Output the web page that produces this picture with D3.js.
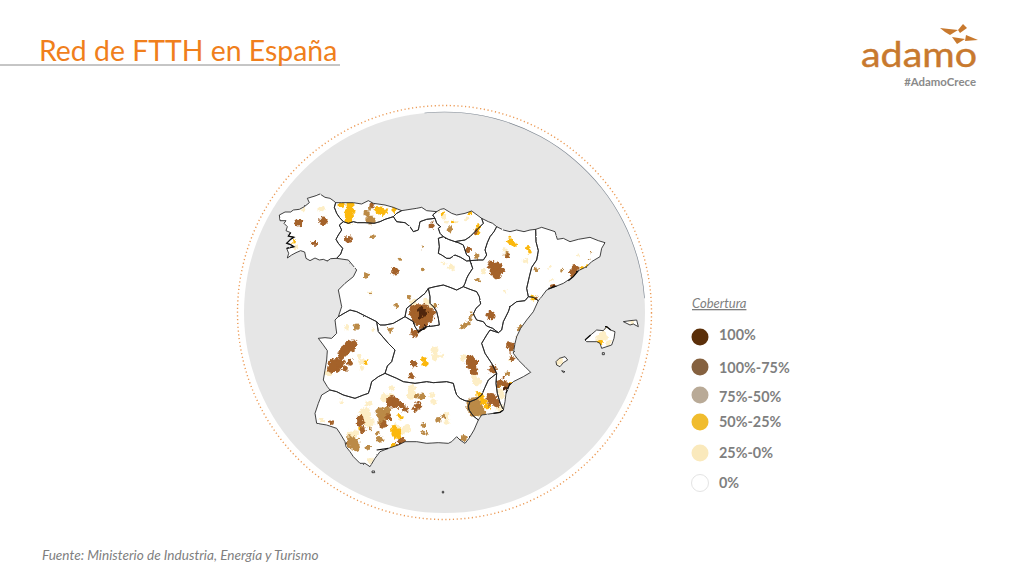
<!DOCTYPE html>
<html><head><meta charset="utf-8">
<script src="https://cdn.jsdelivr.net/npm/d3@7/dist/d3.min.js"></script>
<style>html,body{margin:0;padding:0;background:#fff}svg{display:block}text{font-family:Lato,"Open Sans",sans-serif}</style>
</head><body><svg id="c" width="1024" height="576"></svg>
<script>
const titleText="Red de FTTH en España";
const sourceText="Fuente: Ministerio de Industria, Energía y Turismo";
const legendTitle="Cobertura";
const legendLabels=["100%","100%-75%","75%-50%","50%-25%","25%-0%","0%"];
const legendColors=["#5b2f09","#85613f","#b9aa97","#f0bc2e","#fae9bc","#ffffff"];
const legendDotYs=[337,367,395,422,453,483];
const legendTextYs=[340,373,402,427,458,488];
const tierColors=["#fdeec6","#fbb80f","#bb8a46","#a4622a","#4f2708"];

// Shared borders and coasts, in map-grid units
const coastGalicia=[[200,235],[182,236],[172,243],[160,238],[148,240],[135,234],[120,242],[108,235],[104,216],[92,212],[78,218],[65,225],[52,234],[56,220],[50,205],[72,200],[60,193],[50,190],[62,178],[72,172],[55,168],[62,158],[48,152],[52,140],[42,130],[48,122],[30,122],[28,105],[45,96],[62,96],[70,90],[88,88],[103,80],[118,68],[112,55],[135,48],[150,42],[165,52],[180,55],[190,62],[197,68]];
const bGalAst=[[197,68],[193,82],[200,100],[208,112],[220,125]];
const bGalCyl=[[220,125],[208,135],[215,150],[205,165],[198,178],[205,190],[218,205],[212,222],[200,235]];
const coastAst=[[197,68],[215,68],[250,68],[275,72],[295,62],[310,70],[345,75],[370,82],[395,92]];
const bAstCan=[[395,92],[380,100],[370,110]];
const bAstCyl=[[370,110],[345,118],[330,125],[312,130],[285,128],[262,128],[250,125],[235,130],[220,125]];
const coastCan=[[395,92],[420,88],[440,85],[455,82],[470,92],[500,95]];
const bCanPV=[[500,95],[488,105],[495,115]];
const bCanCyl=[[495,115],[470,118],[450,125],[447,140],[445,150],[430,155],[420,140],[405,128],[380,125],[370,110]];
const coastPV=[[500,95],[512,88],[522,86],[545,100],[560,105],[585,100],[605,93],[635,115]];
const bPVNav=[[635,115],[640,130],[625,145],[610,160],[600,170],[585,180],[565,183],[555,185]];
const bPVRio=[[555,185],[535,178],[520,170]];
const bPVCyl=[[520,170],[510,160],[505,145],[512,140],[500,130],[495,115]];
const frNav=[[635,115],[655,125],[668,130],[680,140]];
const bNavAra=[[680,140],[672,155],[660,170],[652,188],[645,210],[650,225],[640,240],[625,240],[600,242]];
const bNavRio=[[600,242],[598,230],[590,225],[585,210],[580,195],[565,188],[555,185]];
const bRioCyl=[[520,170],[505,175],[508,200],[505,220],[515,225],[530,235],[540,235],[555,225],[572,232],[590,243],[600,242]];
const bCylAra=[[600,242],[608,265],[595,285],[590,295],[585,310],[580,320]];
const bCylCLMn=[[580,320],[560,330],[540,322],[520,315],[495,320],[475,325]];
const bAraCLM=[[580,320],[600,328],[620,335],[628,350],[632,372],[618,385],[610,402],[620,420],[640,425],[650,438],[668,445],[685,458]];
const bAraVal=[[685,458],[695,450],[700,425],[715,395],[720,380],[740,365],[765,362],[775,350]];
const bAraCat=[[775,350],[770,325],[778,290],[785,262],[800,240],[805,212],[798,185],[797,148]];
const frAra=[[680,140],[700,150],[720,155],[740,150],[762,155],[780,150],[797,148]];
const coastCat=[[797,148],[815,142],[840,150],[855,155],[862,178],[880,175],[900,185],[925,178],[960,172],[985,182],[1005,188],[995,205],[990,230],[965,245],[950,260],[925,272],[910,290],[880,310],[860,318],[830,330],[815,350],[805,362]];
const bCatVal=[[805,362],[790,352],[775,350]];
const coastVal=[[805,362],[790,395],[770,420],[752,445],[740,470],[735,490],[730,520],[745,540],[765,560],[782,577],[760,590],[730,605],[715,620],[708,640],[705,665],[700,690]];
const bValMur=[[680,580],[678,610],[682,640],[690,668],[700,690]];
const bValCLM=[[680,580],[665,550],[645,520],[635,490],[650,465],[660,450],[685,458]];
const coastMur=[[700,690],[690,697],[670,700],[650,703],[635,705],[625,720]];
const bMurAnd=[[625,720],[610,708],[597,690],[595,678],[600,665]];
const bMurCLM=[[600,665],[618,658],[635,645],[645,622],[655,600],[680,580]];
const coastAnd=[[625,720],[612,750],[597,775],[585,790],[570,780],[560,770],[545,785],[535,790],[505,788],[470,790],[440,785],[405,785],[385,795],[355,805],[330,815],[315,835],[300,860],[285,850],[270,850],[250,830],[240,815],[228,800],[225,785],[210,760],[200,745],[170,735],[140,730],[135,700],[145,670],[155,645],[180,630]];
const bExAnd=[[180,630],[200,635],[220,645],[255,655],[280,645],[295,640],[300,625],[305,605],[325,590],[345,580]];
const bCLMAnd=[[345,580],[380,595],[400,605],[435,610],[470,605],[490,608],[530,605],[550,610],[555,630],[560,645],[570,655],[585,662],[600,665]];
const bExCLM=[[345,580],[352,558],[365,545],[375,510],[355,490],[325,455],[320,425]];
const bExCyl=[[320,425],[290,410],[260,395],[240,390],[222,400],[205,410]];
const westEx=[[205,410],[195,420],[200,460],[185,475],[165,473],[145,475],[160,495],[172,512],[170,540],[165,570],[160,600],[172,620],[180,630]];
const westCyl=[[205,410],[215,380],[205,330],[225,310],[250,290],[260,270],[235,240],[200,235]];
const bCylMad=[[475,325],[465,340],[440,360],[410,385],[405,410]];
const bCylCLM=[[405,410],[370,430],[345,435],[330,435],[320,425]];
const bMadCLM=[[475,325],[480,350],[480,370],[492,382],[500,395],[505,415],[508,435],[490,438],[470,440],[455,450],[445,455],[435,440],[430,425],[405,410]];
const rev=a=>a.slice().reverse();
const galicia=[...coastGalicia,...bGalAst,...bGalCyl];
const asturias=[...coastAst,...bAstCan,...bAstCyl,...rev(bGalAst)];
const cantabria=[...coastCan,...bCanPV,...bCanCyl,...rev(bAstCan)];
const paisVasco=[...coastPV,...bPVNav,...bPVRio,...bPVCyl,...rev(bCanPV)];
const navarra=[...frNav,...bNavAra,...bNavRio,...rev(bPVNav)];
const rioja=[...rev(bPVRio),...rev(bNavRio),...rev(bRioCyl)];
const castillaLeon=[...rev(bAstCyl),...rev(bCanCyl),...rev(bPVCyl),...bRioCyl,...bCylAra,...bCylCLMn,...bCylMad,...bCylCLM,...bExCyl,...westCyl,...rev(bGalCyl)];
const aragon=[...frAra,...rev(bAraCat),...rev(bAraVal),...rev(bAraCLM),...rev(bCylAra),...rev(bNavAra)];
const cataluna=[...coastCat,...bCatVal,...bAraCat];
const valencia=[...bAraVal,...rev(bCatVal),...coastVal,...rev(bValMur),...bValCLM];
const madrid=[...bMadCLM,...rev(bCylMad)];
const castillaMancha=[...rev(bCylCLMn),...bAraCLM,...rev(bValCLM),...rev(bMurCLM),...rev(bCLMAnd),...bExCLM,...rev(bCylCLM),...rev(bMadCLM)];
const murcia=[...bMurCLM,...bValMur,...coastMur,...bMurAnd];
const andalucia=[...bExAnd,...bCLMAnd,...rev(bMurAnd),...coastAnd];
const extremadura=[...westEx,...bExAnd,...bExCLM,...bExCyl];
const mallorca=[[945,480],[962,465],[980,450],[1000,452],[1010,440],[1022,450],[1035,455],[1032,475],[1025,495],[995,505],[990,490],[980,485],[950,485]];
const menorca=[[1060,425],[1080,422],[1100,420],[1105,440],[1090,432],[1080,435]];
const ibiza=[[858,545],[868,535],[885,530],[893,540],[880,548],[870,560],[860,555]];
const formentera=[[875,572],[885,575],[880,578]];
const ceuta=[[306,873],[314,873],[314,878],[306,878]];
const melilla=[[517,934],[521,934],[521,939],[517,939]];
const cabrera=[[997,518],[1003,518],[1003,524],[997,524]];
const regions=[galicia,asturias,cantabria,castillaLeon,paisVasco,navarra,rioja,aragon,cataluna,madrid,castillaMancha,valencia,murcia,andalucia,extremadura,mallorca,menorca,ibiza,formentera,ceuta,melilla,cabrera];
const darkCoasts=[[[50,205],[72,200],[60,193],[50,190],[62,178],[72,172],[55,168],[62,158]],[[445,455],[455,450],[470,440]],[[925,272],[910,290],[895,302]],[[860,318],[835,326]],[[1005,440],[1010,440],[1022,450]],[[945,480],[962,465]],[[320,810],[355,805]],[[700,690],[690,697],[670,700]],[[720,610],[708,640]]];

// Coverage patches: [x, y, radius] in map-grid units, one list per tier
const patches25=[[155,88,8],[100,88,5],[78,200,7],[300,340,4],[230,442,6],[310,450,5],[520,250,5],[545,262,8],[705,335,5],[640,275,7],[705,210,7],[925,228,4],[845,300,5],[840,262,4],[765,243,6],[520,110,7],[530,125,5],[560,125,5],[590,115,5],[505,95,4],[175,578,9],[275,545,9],[268,530,6],[275,565,6],[495,510,9],[495,530,10],[515,528,7],[580,532,9],[620,605,12],[612,590,7],[690,685,11],[695,645,9],[630,705,7],[285,700,15],[295,725,14],[295,670,8],[345,652,11],[360,648,8],[425,625,11],[425,645,13],[365,625,8],[410,745,11],[395,755,8],[485,645,7],[490,665,8],[530,705,7],[530,725,8],[245,765,12],[258,760,8],[300,840,8],[380,740,9],[155,720,6],[215,665,6],[1000,470,12],[985,475,8],[1015,490,8],[870,545,10],[1085,428,6],[430,370,10],[470,365,9],[485,380,7],[720,540,5],[690,635,8]];
const patches50=[[240,75,9],[240,90,12],[238,105,12],[235,120,10],[215,75,8],[335,95,11],[320,90,8],[350,92,6],[372,88,7],[550,125,5],[600,100,5],[520,100,4],[625,140,6],[622,155,8],[718,170,5],[720,185,8],[732,193,7],[775,205,6],[780,215,5],[790,355,8],[935,265,6],[950,258,5],[462,540,8],[465,552,7],[288,548,6],[720,610,6],[632,650,8],[640,665,9],[652,680,7],[625,640,6],[270,745,5],[370,800,8],[372,745,9],[380,760,14],[390,710,7],[990,488,7],[1005,440,5],[72,185,5],[690,615,5]];
const patches75=[[612,675,20],[625,690,16],[610,695,13],[640,700,7],[300,120,12],[290,100,8],[300,85,6],[340,705,16],[330,695,11],[352,690,10],[335,725,11],[455,648,9],[440,650,5],[250,790,16],[240,775,8],[258,802,10],[295,802,7],[330,778,9],[322,760,6],[505,720,8],[520,710,5],[460,735,7],[462,760,7],[580,775,9],[540,148,8],[710,225,8],[797,270,6],[875,270,4],[965,222,3],[955,238,3],[308,170,6],[458,200,4],[390,238,4],[458,268,5],[290,285,7],[300,342,3],[418,352,6],[380,377,6],[497,378,6],[360,450,7],[260,440,8],[622,300,6],[750,445,6],[745,470,5],[715,580,7],[600,415,7],[595,430,6],[585,437,6],[605,403,5],[575,440,4],[620,228,7],[175,770,5],[300,745,5]];
const patches100=[[85,128,10],[160,122,11],[133,190,7],[235,178,9],[305,75,6],[375,275,10],[665,255,11],[680,265,15],[695,270,9],[680,285,11],[668,275,8],[663,407,12],[710,228,6],[618,155,6],[915,265,9],[915,285,11],[905,275,7],[595,210,7],[485,137,8],[433,460,10],[440,395,20],[460,400,24],[445,415,18],[472,410,16],[458,428,13],[430,385,9],[490,395,7],[240,500,16],[225,510,13],[250,490,10],[215,525,11],[195,555,18],[185,565,12],[212,550,11],[240,545,8],[225,565,7],[605,550,15],[612,572,11],[600,535,10],[433,552,9],[425,588,8],[720,495,10],[722,510,7],[725,535,7],[668,568,11],[690,610,9],[710,615,10],[665,655,14],[680,670,10],[660,670,7],[365,665,15],[380,670,12],[395,675,8],[340,735,10],[355,712,8],[445,678,10],[435,688,7],[405,688,8],[270,715,9],[272,730,10],[278,750,8],[395,785,10],[380,795,5],[185,728,6],[800,355,5],[850,320,6],[700,595,5]];
const patchesFull=[[455,395,11],[450,412,6],[468,402,5],[455,448,5],[465,442,4],[447,453,4],[920,292,5],[912,298,4],[850,322,4],[705,625,5],[388,792,3],[230,790,3]];
const patchTiers=[patches25,patches50,patches75,patches100,patchesFull];

const logoMark=[[[940,28],[958,30],[950,35],[945,32]],[[963,24],[967,28],[960,33],[958,30]],[[952,37],[965,39],[957,44]],[[966,35],[978,40],[965,41]]];

const svg=d3.select("#c");
const x=d3.scaleLinear().domain([0,1050]).range([270,620]);
const y=d3.scaleLinear().domain([0,480]).range([180,340]);
const r=d3.scaleLinear().domain([0,3]).range([0,1.15]);
const line=d3.line().x(d=>x(d[0])).y(d=>y(d[1])).curve(d3.curveLinearClosed);
const openLine=d3.line().x(d=>x(d[0])).y(d=>y(d[1]));

const defs=svg.append("defs");
defs.append("clipPath").attr("id","land").selectAll("path").data(regions).join("path").attr("d",line);
function rough(id,freq,scale,blur){
  const f=defs.append("filter").attr("id",id).attr("filterUnits","userSpaceOnUse").attr("x",240).attr("y",100).attr("width",420).attr("height",420);
  f.append("feTurbulence").attr("type","fractalNoise").attr("baseFrequency",freq).attr("numOctaves",2).attr("seed",4).attr("result","n");
  f.append("feDisplacementMap").attr("in","SourceGraphic").attr("in2","n").attr("scale",scale).attr("xChannelSelector","R").attr("yChannelSelector","G").attr("result","d");
  f.append("feGaussianBlur").attr("in","d").attr("stdDeviation",blur);
}
rough("patchEdge",0.3,5.5,0.45);
rough("coastEdge",0.45,1.6,0.22);

// Title
svg.append("line").attr("x1",0).attr("x2",340).attr("y1",65).attr("y2",65).attr("stroke","#8c8c8c").attr("stroke-width",1);
svg.append("text").attr("x",39).attr("y",61).attr("font-size",28.4).attr("fill","#f07f1c").text(titleText);

// Logo
svg.append("g").selectAll("path").data(logoMark).join("path").attr("d",d=>"M"+d.join("L")+"Z").attr("fill","#c8792e");
svg.append("text").attr("x",861).attr("y",67).attr("font-size",34).attr("textLength",116).attr("lengthAdjust","spacingAndGlyphs").attr("fill","#c8792e").attr("stroke","#c8792e").attr("stroke-width",0.4).text("adamo");
svg.append("text").attr("x",976).attr("y",86).attr("text-anchor","end").attr("font-size",11.4).attr("font-weight",700).attr("fill","#8a8a8a").text("#AdamoCrece");

// Globe
svg.append("circle").attr("cx",444.5).attr("cy",312.5).attr("r",207).attr("fill","none").attr("stroke","#ec9a55").attr("stroke-width",1.4).attr("stroke-dasharray","1.2 2.6");
svg.append("circle").attr("cx",444.5).attr("cy",312.5).attr("r",200.5).attr("fill","#e6e6e6");
svg.append("path").attr("d",d3.arc()({innerRadius:200.2,outerRadius:200.8,startAngle:-0.1,endAngle:1.5})).attr("transform","translate(444.5,312.5)").attr("fill","#77808c");

// Map
const map=svg.append("g");
map.append("g").selectAll("path").data(regions).join("path").attr("d",line).attr("fill","#fff");
const pg=map.append("g").attr("clip-path","url(#land)").append("g").attr("filter","url(#patchEdge)");
patchTiers.forEach((t,i)=>{
  pg.append("g").selectAll("circle").data(t).join("circle").attr("cx",d=>x(d[0])).attr("cy",d=>y(d[1])).attr("r",d=>r(d[2])).attr("fill",tierColors[i]);
});
const og=map.append("g").attr("filter","url(#coastEdge)");
og.selectAll("path.o").data(regions).join("path").attr("class","o").attr("d",line).attr("fill","none").attr("stroke","#222").attr("stroke-width",0.85).attr("stroke-linejoin","round");
og.selectAll("path.d").data(darkCoasts).join("path").attr("class","d").attr("d",openLine).attr("fill","none").attr("stroke","#111").attr("stroke-width",1.2);

// Legend
const lg=svg.append("g");
lg.append("text").attr("x",692).attr("y",308).attr("font-size",13).attr("font-style","italic").attr("fill","#7f7f7f").attr("text-decoration","underline").text(legendTitle);
lg.selectAll("circle").data(legendLabels).join("circle").attr("cx",700).attr("cy",(d,i)=>legendDotYs[i]).attr("r",8.5).attr("fill",(d,i)=>legendColors[i]).attr("stroke",(d,i)=>i==5?"#e4e4e4":"none").attr("stroke-width",1);
lg.selectAll("text.l").data(legendLabels).join("text").attr("class","l").attr("x",719).attr("y",(d,i)=>legendTextYs[i]).attr("font-size",14.4).attr("font-weight",700).attr("fill","#7f7f7f").text(d=>d);

// Source
svg.append("text").attr("x",42).attr("y",560).attr("font-size",13.6).attr("font-style","italic").attr("fill","#7f7f7f").text(sourceText);
</script></body></html>
